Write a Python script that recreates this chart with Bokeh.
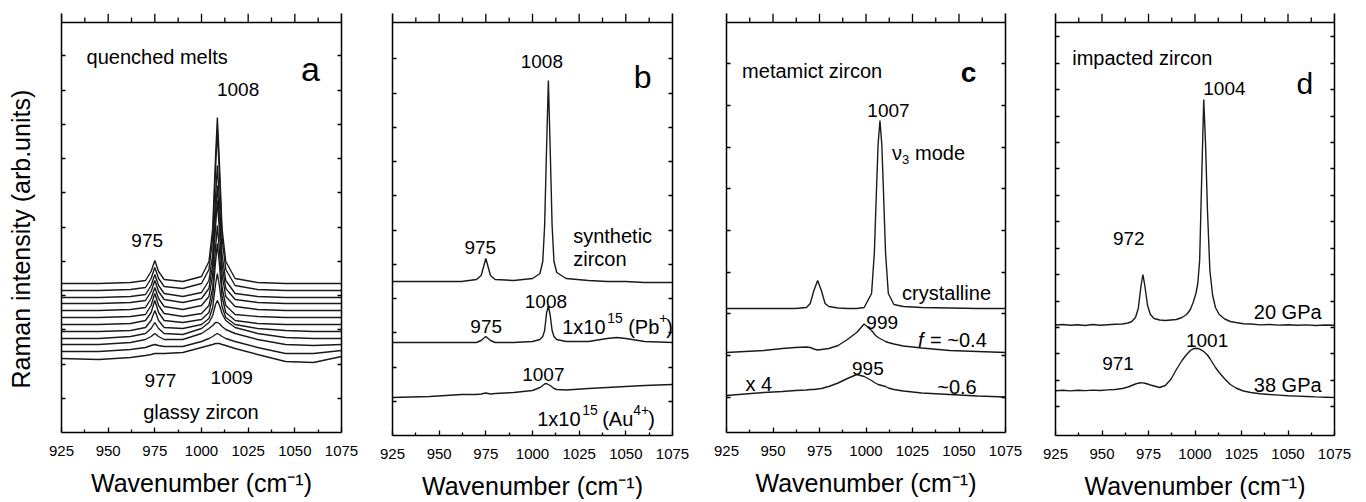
from bokeh.plotting import figure
from bokeh.layouts import row
from bokeh.models import Range1d, FixedTicker, LinearAxis, Span, Title
from bokeh.core.properties import value
from bokeh.embed import file_html
from bokeh.resources import INLINE

FONT = "Liberation Sans"
INK = "#1a1a1a"

# ---------------- data ----------------
x_ticks = [925, 950, 975, 1000, 1025, 1050, 1075]
x_minor = [937.5, 962.5, 987.5, 1012.5, 1037.5, 1062.5]

# panel a: quenched melts -> glassy zircon (top to bottom)
a_x = [925, 945, 962, 970, 973, 975, 977, 980, 990, 1000, 1004, 1006, 1007.5, 1008.5, 1009.5, 1011, 1013, 1018, 1030, 1045, 1060, 1075]
a_y01 = [149, 149, 150, 152, 161, 172, 161, 153, 151, 156, 171, 204, 274, 315, 274, 204, 171, 154, 150, 149, 149, 149]
a_y02 = [142, 142, 143, 145, 154, 165, 154, 146, 144, 149, 163, 195, 263, 302, 263, 195, 163, 147, 143, 142, 142, 142]
a_y03 = [135, 135, 136, 138, 147, 158, 147, 139, 136, 140, 152, 178, 235, 267, 235, 178, 152, 139, 136, 135, 135, 135]
a_y04 = [129, 129, 130, 132, 141, 152, 141, 133, 130, 134, 144, 168, 218, 247, 218, 168, 144, 133, 130, 129, 129, 129]
a_y05 = [122, 122, 123, 125, 134, 145, 134, 126, 123, 127, 136, 158, 205, 232, 205, 158, 136, 126, 123, 122, 122, 122]
a_y06 = [115, 115, 116, 118, 127, 139, 127, 119, 116, 119, 127, 145, 184, 207, 184, 145, 127, 118, 116, 115, 115, 115]
a_y07 = [108, 108, 109, 112, 120, 132, 120, 112, 110, 113, 120, 136, 170, 189, 170, 136, 120, 112, 109, 108, 108, 108]
a_y08 = [101, 101, 102, 105, 112, 122, 112, 105, 104, 108, 114, 125, 148, 159, 148, 126, 115, 108, 104, 102, 101, 101]
a_y09 = [94, 94, 96, 99, 104, 110, 104, 99, 98, 104, 110, 117, 128, 132, 128, 119, 112, 105, 99, 95, 94, 94]
a_y10 = [88, 88, 90, 93, 96, 99, 96, 93, 93, 99, 104, 107, 110, 110, 109, 106, 103, 99, 93, 88, 87, 88]
a_y11 = [81, 81, 83, 85, 87, 88, 87, 86, 86, 91, 94, 96, 98, 99, 98, 96, 94, 91, 85, 79, 79, 82]
a_y12 = [74, 73, 75, 77, 78, 79, 79, 79, 80, 85, 87, 88, 89, 89, 89, 88, 87, 84, 78, 71, 70, 76]

# panel b: synthetic zircon and ion-irradiated
b_x = [925, 945, 962, 970, 972.5, 975, 977.5, 980, 990, 1000, 1004, 1005.5, 1006.5, 1007.5, 1008.5, 1009.5, 1010.5, 1011.5, 1013, 1018, 1030, 1040, 1045, 1050, 1060, 1075]
b_synthetic = [154, 154, 154, 156, 160, 177, 160, 156, 155, 157, 162, 174, 210, 285, 355, 285, 210, 174, 163, 157, 155, 154, 154, 154, 153, 153]
b_pb = [93, 93, 93, 93, 95, 99, 95, 93, 93, 94, 96, 99, 105, 122, 130, 120, 105, 99, 96, 94, 94, 97, 98, 97, 94, 93]
b_au = [38, 39, 41, 41, 41.5, 42.5, 41.5, 42, 43, 45, 48, 50, 51.5, 52, 51, 50, 48.5, 47, 46, 45.5, 47, 48, 48.5, 49, 50, 51]

# panel c: metamict zircon
c_x = [925, 945, 955, 962, 968, 970, 972, 974, 976, 978, 980, 985, 990, 995, 999, 1003, 1004.5, 1005.5, 1006.5, 1007.5, 1008.5, 1009.5, 1010.5, 1012, 1015, 1020, 1030, 1045, 1060, 1075]
c_crystalline = [124, 124, 124, 124, 125, 129, 142, 152, 142, 129, 126, 124.5, 124, 124, 125, 139, 180, 235, 288, 312, 288, 235, 180, 139, 128, 126, 125, 124.5, 124, 124]
c_f04 = [80, 82, 84, 85, 85.5, 85, 83.5, 82.5, 83, 83.5, 84, 87, 93, 100, 108.5, 102, 98.5, 96.5, 95, 94, 93, 92, 91, 90, 88.5, 86.5, 84.5, 82, 81, 80]
c_f06 = [37, 40, 41, 42, 42.5, 43, 43, 43.5, 44, 45, 46, 49.5, 54, 58, 56, 52, 50, 49, 48, 47.5, 47, 46.5, 46, 44.5, 43, 41.5, 39.5, 38, 36.5, 35.5]

# panel d: impacted zircon
d_x = [925, 929, 933, 937, 941, 945, 949, 953, 957, 961,
       964, 966, 968, 969.5, 971, 972, 973, 974.5, 976, 978,
       981, 984, 987, 990, 993, 995.5, 997.5, 999, 1000.5, 1001.5,
       1002.5, 1003.5, 1004.7, 1005.7, 1006.7, 1008, 1009.5, 1011, 1013, 1016,
       1019, 1022, 1026, 1030, 1035, 1040, 1045, 1050, 1055, 1060,
       1065, 1070, 1075]
d_20gpa = [110.5, 111, 110.2, 110.8, 110, 111, 110.3, 110.8, 111.2, 111.5,
           112.5, 114, 118, 127, 150, 161, 150, 130, 121, 117,
           115.5, 115, 115.5, 116, 118, 121, 126, 133, 142, 152,
           175, 250, 336, 290, 225, 165, 140, 128, 121, 116.5,
           114, 113, 111.8, 111.5, 110.6, 111, 110.4, 110.8, 110.2, 110.6,
           110, 110.5, 110.2]
d_38gpa = [44.8, 45.2, 44.6, 45.3, 44.9, 45.4, 45, 45.6, 46, 47,
           48.5, 50, 51.5, 52.3, 52.7, 52.6, 52.2, 51.5, 50.5, 49.5,
           48, 50, 56, 66, 75, 81, 85, 86.7, 87.2, 87,
           86.3, 85.3, 84, 82.3, 80.5, 77, 72.5, 68, 63, 56.5,
           51, 47.5, 44.5, 43, 41.8, 41, 40.4, 39.8, 39.4, 39,
           38.6, 38.3, 38]

TOP_MAJOR = 9   # outward length of the top ticks (px)
TOP_MINOR = 5


# ---------------- helpers ----------------
def make_panel(frame_w, box_h, b_left, b_right, box_top, y_ticks, y_title=None):
    # the frame reaches TOP_MAJOR px above the box so the top ticks can point outward
    frame_h = box_h + TOP_MAJOR
    p = figure(frame_width=frame_w, frame_height=frame_h,
               min_border_left=b_left, min_border_right=b_right,
               min_border_top=box_top - TOP_MAJOR, min_border_bottom=40,
               x_range=Range1d(925, 1075), y_range=Range1d(0, frame_h),
               output_backend="svg", toolbar_location=None, tools="")
    p.grid.visible = False
    p.outline_line_color = None
    p.background_fill_color = "white"
    p.border_fill_color = "white"

    xb = p.xaxis[0]
    xb.ticker = FixedTicker(ticks=x_ticks, minor_ticks=x_minor)
    xb.axis_label = "Wavenumber (cm\u207b\u00b9)"
    xb.axis_label_text_font = FONT
    xb.axis_label_text_font_size = "25px"
    xb.axis_label_text_font_style = "normal"
    xb.axis_label_text_color = "black"
    xb.axis_label_standoff = 10
    xb.major_label_text_font = FONT
    xb.major_label_text_font_size = "15px"
    xb.major_label_text_color = "black"
    xb.major_label_standoff = 13
    xb.major_tick_in = 5
    xb.major_tick_out = 0
    xb.minor_tick_in = 3
    xb.minor_tick_out = 0
    xb.axis_line_width = 1.5
    xb.major_tick_line_width = 1.3
    xb.minor_tick_line_width = 1.3

    # top edge of the box and its outward ticks
    p.add_layout(Span(location=box_h, dimension="width", line_color="black", line_width=1.5))
    p.segment(x0=x_ticks, y0=[box_h] * len(x_ticks), x1=x_ticks, y1=[box_h + TOP_MAJOR] * len(x_ticks),
              line_color="black", line_width=1.3)
    p.segment(x0=x_minor, y0=[box_h] * len(x_minor), x1=x_minor, y1=[box_h + TOP_MINOR] * len(x_minor),
              line_color="black", line_width=1.3)

    yl = p.yaxis[0]
    yl.ticker = FixedTicker(ticks=y_ticks, minor_ticks=[])
    yl.major_label_text_color = None
    yl.major_label_text_font_size = "1px"
    yl.major_label_standoff = 0
    yl.major_tick_in = 4
    yl.major_tick_out = 0
    yl.minor_tick_in = 0
    yl.minor_tick_out = 0
    yl.axis_line_width = 1.5
    yl.major_tick_line_width = 1.3
    if y_title:
        # a blank axis label reserves a gap between the box and the title;
        # the title itself is anchored at the bottom of the box
        yl.axis_label = " "
        yl.axis_label_text_font = FONT
        yl.axis_label_text_font_size = "10px"
        yl.axis_label_standoff = 13
        t = Title(text=y_title, align="left", offset=44, vertical_align="bottom",
                  standoff=0, text_font=FONT, text_font_size="25px",
                  text_font_style="normal", text_color="black")
        p.add_layout(t, "left")

    right = LinearAxis(ticker=FixedTicker(ticks=y_ticks, minor_ticks=[]),
                       major_label_text_color=None, major_label_text_font_size="1px",
                       major_label_standoff=0,
                       major_tick_in=4, major_tick_out=0, minor_tick_in=0, minor_tick_out=0,
                       axis_line_width=1.5, major_tick_line_width=1.3,
                       major_tick_line_color="black", axis_line_color="black")
    p.add_layout(right, "right")
    return p


def spectrum(p, xs, ys):
    p.line(xs, ys, line_color=INK, line_width=1.4)


def txt(p, x, y, s, size="19px", align="center", style="normal", xo=0, yo=0):
    p.text(x=[x], y=[y], text=[s], text_font=value(FONT), text_font_size=value(size),
           text_align=align, text_baseline="alphabetic", text_font_style=style,
           text_color="black", x_offset=xo, y_offset=yo)


def sup_label(p, x, y, parts):
    # parts: (text, x offset in px, raise in px, font size)
    for s, xo, rise, size in parts:
        txt(p, x, y, s, size=size, align="left", xo=xo, yo=-rise)


# ---------------- panel a ----------------
a_ticks = [34.24 * k for k in range(1, 12)]
pa = make_panel(280, 410, 61, 22, 22, a_ticks, y_title="Raman intensity (arb.units)")
for ys in [a_y01, a_y02, a_y03, a_y04, a_y05, a_y06, a_y07, a_y08, a_y09, a_y10, a_y11, a_y12]:
    spectrum(pa, a_x, ys)
txt(pa, 938.4, 376, "quenched melts", size="20px", align="left")
txt(pa, 1058.4, 364, "a", size="34px")
txt(pa, 1019.6, 343, "1008")
txt(pa, 970.9, 192, "975")
txt(pa, 978.0, 52, "977")
txt(pa, 1016.2, 55, "1009")
txt(pa, 999.7, 21, "glassy zircon", size="20px")

# ---------------- panel b ----------------
b_ticks = [34.24 * k for k in range(1, 12)]
pb = make_panel(280, 413, 29, 22, 19, b_ticks)
spectrum(pb, b_x, b_synthetic)
spectrum(pb, b_x, b_pb)
spectrum(pb, b_x, b_au)
txt(pb, 1005.0, 374, "1008")
txt(pb, 1059.0, 359, "b", size="32px")
txt(pb, 972.0, 188, "975")
txt(pb, 1021.8, 200, "synthetic", size="20px", align="left")
txt(pb, 1021.8, 177, "zircon", size="20px", align="left")
txt(pb, 1007.2, 134, "1008")
txt(pb, 975.2, 109, "975")
sup_label(pb, 1015.9, 109, [("1x10", 0, 0, "20px"), ("15", 45, 9, "14px"),
                            ("(Pb", 66, 0, "20px"), ("+", 97, 9, "14px"), (")", 104, 0, "20px")])
txt(pb, 1005.8, 61, "1007")
sup_label(pb, 1002.5, 17, [("1x10", 0, 0, "20px"), ("15", 45, 9, "14px"),
                           ("(Au", 65, 0, "20px"), ("4+", 96, 9, "14px"), (")", 111, 0, "20px")])

# ---------------- panel c ----------------
c_ticks = [35.3 + 41.67 * k for k in range(0, 9)]
pc = make_panel(279, 410, 32, 22, 22, c_ticks)
spectrum(pc, c_x, c_crystalline)
spectrum(pc, c_x, c_f04)
spectrum(pc, c_x, c_f06)
txt(pc, 933.4, 362, "metamict zircon", size="20px", align="left")
txt(pc, 1055.1, 360, "c", size="28px", style="bold")
txt(pc, 1012.1, 322, "1007")
txt(pc, 1014.0, 280, "\u03bd", size="20px", align="left")
txt(pc, 1014.0, 280, "3", size="13px", align="left", xo=10, yo=7)
txt(pc, 1014.0, 280, "mode", size="20px", align="left", xo=23)
txt(pc, 1019.4, 140, "crystalline", size="20px", align="left")
txt(pc, 1008.7, 110, "999")
txt(pc, 1028.0, 93, "f", size="20px", align="left", style="italic")
txt(pc, 1028.0, 93, "= ~0.4", size="20px", align="left", xo=12)
txt(pc, 1001.0, 64, "995")
txt(pc, 935.2, 49, "x 4", size="20px", align="left")
txt(pc, 1038.3, 46, "~0.6", size="20px", align="left")

# ---------------- panel d ----------------
d_ticks = [28.7 + 26.43 * k for k in range(0, 15)]
pd = make_panel(279, 413, 28, 22, 19, d_ticks)
spectrum(pd, d_x, d_20gpa)
spectrum(pd, d_x, d_38gpa)
txt(pd, 934.0, 378, "impacted zircon", size="20px", align="left")
txt(pd, 1059.0, 352, "d", size="30px")
txt(pd, 1015.8, 347, "1004")
txt(pd, 964.4, 197, "972")
txt(pd, 1031.6, 124, "20 GPa", size="20px", align="left")
txt(pd, 1006.5, 95, "1001")
txt(pd, 958.6, 72, "971")
txt(pd, 1031.6, 51, "38 GPa", size="20px", align="left")

layout = row(pa, pb, pc, pd)
open("out.html", "w").write(file_html(layout, INLINE))
